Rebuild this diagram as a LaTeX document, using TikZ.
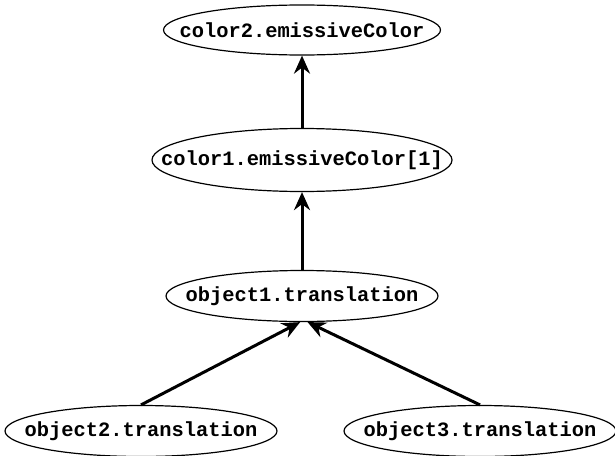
\documentclass[tikz,border=0pt]{standalone}
\usepackage{fontspec}
\setmonofont{Liberation Mono}
\usepackage{tikz}
\usetikzlibrary{shapes.geometric, arrows.meta, positioning}

\begin{document}
\begin{tikzpicture}[
    x=0.5pt, y=-0.5pt,
    field/.style={draw, ellipse, line width=0.6pt, inner xsep=-20pt, inner ysep=0pt, minimum width=136pt, minimum height=25.5pt, font=\ttfamily\bfseries\fontsize{10.2}{12}\selectfont},
    route/.style={-{Stealth[length=9pt, width=8pt, inset=3pt]}, line width=1.5pt}
]
    \useasboundingbox (0,0) rectangle (615,455);
    \node[field, minimum width=138.5pt, minimum height=25pt] (color2) at (302,30) {color2.emissiveColor};
    \node[field, minimum width=150pt, minimum height=31.5pt] (color1) at (302,160) {color1.emissiveColor[1]};
    \node[field] (object1) at (302,296) {object1.translation};
    \node[field] (object2) at (141,431) {object2.translation};
    \node[field] (object3) at (480,431) {object3.translation};
    \draw[route] (color1) -- (color2);
    \draw[route] (object1) -- (color1);
    \draw[route] (object2.north) -- (object1.-94);
    \draw[route] (object3.north) -- (object1.-78);
\end{tikzpicture}
\end{document}
